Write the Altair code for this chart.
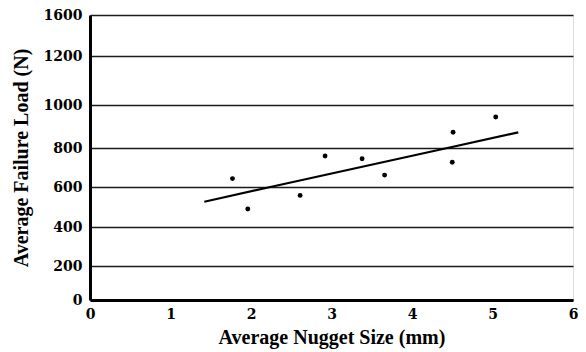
import altair as alt
import pandas as pd

# Scatter points
nugget_size = [1.77, 1.96, 2.61, 2.92, 3.38, 3.66, 4.51, 4.50, 5.04]
failure_load = [643, 490, 558, 759, 745, 661, 873, 727, 944]

# Trend line (straight in picture space; vertices at axis break points)
trend_x = [1.42, 2.24, 4.44, 5.32]
trend_y = [526, 600, 800, 873]

y_ticks = [0, 200, 400, 600, 800, 1000, 1200, 1600]
y_pos = [285, 251, 212, 172, 133, 90, 41, 0]  # uneven axis of the original
x_ticks = [0, 1, 2, 3, 4, 5, 6]

pts = pd.DataFrame({"x": nugget_size, "y": failure_load})
trend = pd.DataFrame({"x": trend_x, "y": trend_y})

TICK_FONT = "DejaVu Serif"
TITLE_FONT = "Liberation Serif"

xs = alt.Scale(domain=[0, 6], nice=False, zero=False)
ys = alt.Scale(type="linear", domain=y_ticks, range=y_pos, nice=False, zero=False)

x_axis = alt.Axis(values=x_ticks, format="d", grid=False, ticks=False, domain=True,
                  domainColor="black", domainWidth=3, labelFlush=False,
                  labelFont=TICK_FONT, labelFontWeight="bold", labelFontSize=14, labelColor="black",
                  labelPadding=7, title="Average Nugget Size (mm)",
                  titleFont=TITLE_FONT, titleFontWeight="bold", titleFontSize=20, titleColor="black",
                  titlePadding=6)
y_axis = alt.Axis(values=y_ticks, format="d", grid=True, gridColor="#1a1a1a", gridWidth=1.5,
                  ticks=False, domain=True, domainColor="black", domainWidth=3, labelFlush=False,
                  labelFont=TICK_FONT, labelFontWeight="bold", labelFontSize=14, labelColor="black",
                  labelPadding=8, title="Average Failure Load (N)",
                  titleFont=TITLE_FONT, titleFontWeight="bold", titleFontSize=20, titleColor="black",
                  titlePadding=12)

points = alt.Chart(pts).mark_point(filled=True, shape="circle", size=24, color="black", opacity=1).encode(
    x=alt.X("x:Q", scale=xs, axis=x_axis),
    y=alt.Y("y:Q", scale=ys, axis=y_axis),
)
line = alt.Chart(trend).mark_line(color="black", strokeWidth=2.2).encode(
    x=alt.X("x:Q", scale=xs),
    y=alt.Y("y:Q", scale=ys),
)

chart = alt.layer(points, line).properties(
    width=483, height=285,
    autosize=alt.AutoSizeParams(type="none"),
    padding={"left": 82, "top": 7, "right": 5, "bottom": 50},
).configure_view(stroke="black", strokeWidth=3).configure(background="white")

chart.save("out.html", embed_options={"renderer": "svg", "actions": False})
